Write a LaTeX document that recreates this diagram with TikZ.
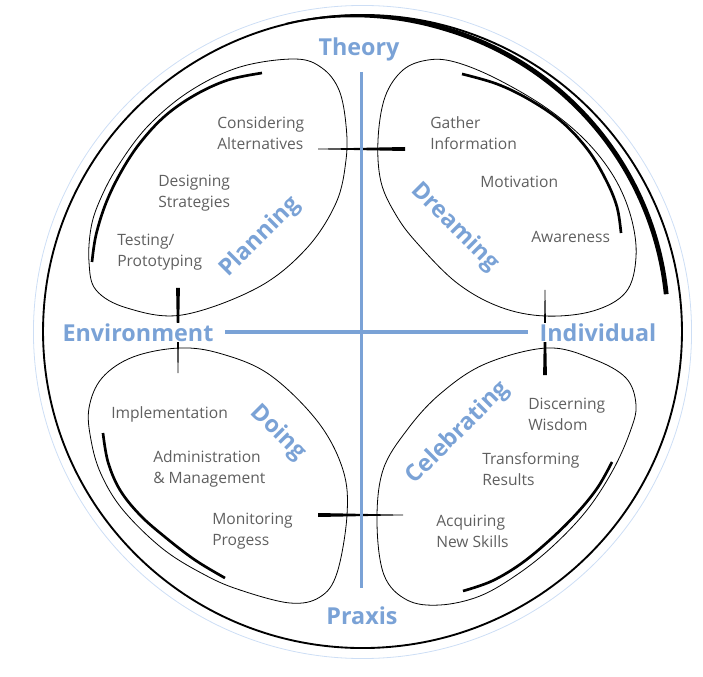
\documentclass[tikz,border=0pt]{standalone}
\usepackage{fontspec}
\setmainfont{Open Sans}
\usetikzlibrary{calc}
\definecolor{axisblue}{RGB}{122,162,214}
\definecolor{txtgray}{RGB}{95,95,95}
\definecolor{faintblue}{RGB}{205,222,245}
\begin{document}
\begin{tikzpicture}[x=0.75pt,y=-0.75pt,
  petal/.style={draw=black, line width=0.6pt},
  thickarc/.style={draw=black, line width=2pt},
  axis/.style={draw=axisblue, line width=2.5pt},
  axislabel/.style={text=axisblue, font=\fontsize{17.5}{20}\selectfont\bfseries, inner sep=0.5pt},
  phase/.style={text=axisblue, font=\fontsize{17.5}{20}\selectfont\bfseries, inner sep=0pt},
  item/.style={text=txtgray, font=\fontsize{11.7}{15.75}\selectfont, align=left, anchor=west, inner sep=0pt},
  tickfill/.style={fill=black},
]
\useasboundingbox (0,0) rectangle (703,677);

% outer circles
\coordinate (ctr) at (362.5,331.5);
\draw[faintblue, line width=0.6pt] (362.5,332) ellipse [x radius=246.8pt, y radius=244.9pt];
\draw[black, line width=1.4pt] (ctr) ellipse [x radius=239.6pt, y radius=237.4pt];
% thick arc top right
\fill[black] plot[domain=7:104, samples=90, variable=\t]
  ({362.5+(306+11*(\t-7)/95 + (2.4-1.7*max(0,(\t-75)/29)))*cos(\t)},
   {331.5-(306+11*(\t-7)/95 + (2.4-1.7*max(0,(\t-75)/29)))*sin(\t)})
  -- plot[domain=104:7, samples=90, variable=\t]
  ({362.5+(306+11*(\t-7)/95 - (2.4-1.7*max(0,(\t-75)/29)))*cos(\t)},
   {331.5-(306+11*(\t-7)/95 - (2.4-1.7*max(0,(\t-75)/29)))*sin(\t)}) -- cycle;

% petals
\draw[petal] plot[smooth cycle, tension=0.6] coordinates {(295,59) (322,68) (339,90) (346,125) (346,160) (336,203) (306,249) (257,288) (182,315) (127,308) (96,290) (89,262) (91,228) (100,200) (118,166) (148,126) (190,91) (240,67)};
\draw[petal] plot[smooth cycle, tension=0.6] coordinates {(428,60) (403,70) (385,97) (378,140) (381,182) (396,215) (417,243) (457,283) (500,307) (545,316) (593,311) (626,292) (636,257) (631,217) (614,177) (585,140) (545,107) (495,78) (455,62)};
\draw[petal] plot[smooth cycle, tension=0.6] coordinates {(180,348) (133,357) (102,378) (89,408) (91,440) (101,474) (123,510) (163,549) (205,575) (240,590) (290,603) (320,597) (337,573) (347,515) (343,470) (318,422) (270,375) (222,354)};
\draw[petal] plot[smooth cycle, tension=0.6] coordinates {(547,348) (593,359) (626,378) (636,405) (630,432) (613,470) (587,510) (553,546) (518,574) (480,596) (440,605) (407,600) (384,575) (377,522) (383,470) (407,430) (440,394) (485,364)};

% thick arcs along petals
\draw[thickarc] plot[smooth, tension=0.6] coordinates {(262,73) (228,80) (195,95) (165,116) (140,143) (121,172) (106,203) (96,235) (92,262)};
\draw[thickarc] plot[smooth, tension=0.6] coordinates {(462,74) (497,84) (530,100) (562,122) (588,150) (606,180) (617,207) (621,233)};
\draw[thickarc] plot[smooth, tension=0.6] coordinates {(103,433) (108,462) (120,490) (140,515) (165,537) (195,560) (225,578)};
\draw[thickarc] plot[smooth, tension=0.6] coordinates {(463,591) (492,581) (522,563) (552,538) (578,512) (598,487) (612,462)};

% tapered connectors
\coordinate (pdA) at (318,149); \coordinate (pdB) at (405,149);
\fill[tickfill] ($(pdA)+(0,-0.3)$) -- ($(pdB)+(0,-2)$) -- ($(pdB)+(0,2)$) -- ($(pdA)+(0,0.3)$) -- cycle;
\coordinate (pgA) at (178,288); \coordinate (pgB) at (178,373);
\fill[tickfill] ($(pgA)+(-1.9,0)$) -- ($(pgB)+(-0.3,0)$) -- ($(pgB)+(0.3,0)$) -- ($(pgA)+(1.9,0)$) -- cycle;
\coordinate (dcA) at (545,290); \coordinate (dcB) at (545,375);
\fill[tickfill] ($(dcA)+(-0.3,0)$) -- ($(dcB)+(-1.9,0)$) -- ($(dcB)+(1.9,0)$) -- ($(dcA)+(0.3,0)$) -- cycle;
\coordinate (ocA) at (318,515); \coordinate (ocB) at (403,515);
\fill[tickfill] ($(ocA)+(0,-2)$) -- ($(ocB)+(0,-0.3)$) -- ($(ocB)+(0,0.3)$) -- ($(ocA)+(0,2)$) -- cycle;

% axes
\coordinate (vt) at (361.5,72); \coordinate (vb) at (361.5,588);
\coordinate (hl) at (225,332); \coordinate (hr) at (528,332);
\draw[axis] (vt) -- (vb);
\draw[axis] (hl) -- (hr);

% axis labels
\node[axislabel, anchor=base] (theory) at (359,56) {Theory};
\node[axislabel, anchor=base] (praxis) at (362,624) {Praxis};
\node[axislabel, anchor=base, fill=white] (env) at (138,341) {Environment};
\node[axislabel, anchor=base, fill=white] (indiv) at (598,341) {Individual};

% phase labels
\node[phase, rotate=45] (planning) at (260,237) {Planning};
\node[phase, rotate=-45] (dreaming) at (455,227) {Dreaming};
\node[phase, rotate=-45] (doing) at (278,433) {Doing};
\node[phase, rotate=45] (celebrating) at (458,433) {Celebrating};

% items
\node[item] (consid) at (217,133) {Considering\\Alternatives};
\node[item] (design) at (158,193) {Designing\\Strategies};
\node[item] (testing) at (117,252) {Testing/\\Prototyping};
\node[item] (gather) at (430,133) {Gather\\Information};
\node[item] (motiv) at (480,182) {Motivation};
\node[item] (aware) at (531,237) {Awareness};
\node[item] (impl) at (111,414) {Implementation};
\node[item] (admin) at (153,469) {Administration\\\& Management};
\node[item] (monit) at (212,531) {Monitoring\\Progess};
\node[item] (discern) at (528,414) {Discerning\\Wisdom};
\node[item] (transf) at (482,469) {Transforming\\Results};
\node[item] (acq) at (436,531) {Acquiring\\New Skills};
\end{tikzpicture}
\end{document}
